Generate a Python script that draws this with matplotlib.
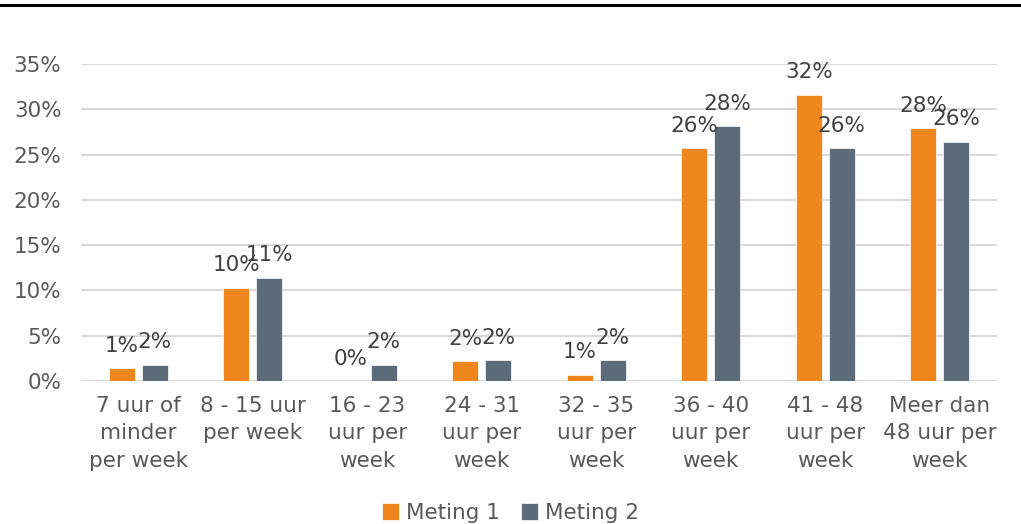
import matplotlib.pyplot as plt
import numpy as np
from matplotlib.lines import Line2D
from matplotlib.ticker import PercentFormatter

categories = ["7 uur of\nminder\nper week", "8 - 15 uur\nper week", "16 - 23\nuur per\nweek",
              "24 - 31\nuur per\nweek", "32 - 35\nuur per\nweek", "36 - 40\nuur per\nweek",
              "41 - 48\nuur per\nweek", "Meer dan\n48 uur per\nweek"]
meting1 = [1.4, 10.3, 0.0, 2.2, 0.7, 25.7, 31.6, 27.9]
meting2 = [1.8, 11.4, 1.8, 2.3, 2.3, 28.1, 25.7, 26.4]

orange = "#F0861E"
slate = "#5B6B79"
tick_color = "#595959"
label_color = "#404040"

plt.rcParams["font.family"] = ["DejaVu Sans"]
plt.rcParams["font.size"] = 15.5

fig = plt.figure(figsize=(10.21, 5.24), dpi=100)
ax = fig.add_axes((0.0793, 0.2729, 0.8972, 0.605))

x = np.arange(len(categories))
w = 0.226
off = 0.143
b1 = ax.bar(x - off, meting1, w, color=orange, edgecolor="white", linewidth=0.5, label="Meting 1", zorder=3)
b2 = ax.bar(x + off, meting2, w, color=slate, edgecolor="white", linewidth=0.5, label="Meting 2", zorder=3)

# data labels sit just above each bar (they overlap in places, as in the original)
for bars, vals in ((b1, meting1), (b2, meting2)):
    for rect, v in zip(bars, vals):
        ax.annotate(f"{round(v):.0f}%", (rect.get_x() + rect.get_width() / 2, rect.get_height()),
                    xytext=(0, 9), textcoords="offset points", ha="center", va="bottom",
                    color=label_color, fontsize=15.5, zorder=4)

ax.set_xlim(-0.5, len(categories) - 0.5)
ax.set_ylim(0, 35)
ax.set_yticks(np.arange(0, 36, 5))
ax.yaxis.set_major_formatter(PercentFormatter(decimals=0))
ax.set_xticks(x)
ax.set_xticklabels(categories, linespacing=1.45)
ax.tick_params(axis="y", length=0, pad=14, colors=tick_color)
ax.tick_params(axis="x", length=0, pad=11, colors=tick_color)
ax.grid(axis="y", color="#d9d9d9", linewidth=1.5, zorder=0)
for s in ax.spines.values():
    s.set_visible(False)

fig.legend(loc="lower center", bbox_to_anchor=(0.5, -0.035), ncol=2, frameon=False,
           handlelength=0.8, handleheight=0.8, handletextpad=0.3, columnspacing=1.0,
           labelcolor=tick_color)

fig.add_artist(Line2D([0, 1], [0.9905, 0.9905], color="black", linewidth=2.2, transform=fig.transFigure))

fig.savefig("out.png", dpi=100)
